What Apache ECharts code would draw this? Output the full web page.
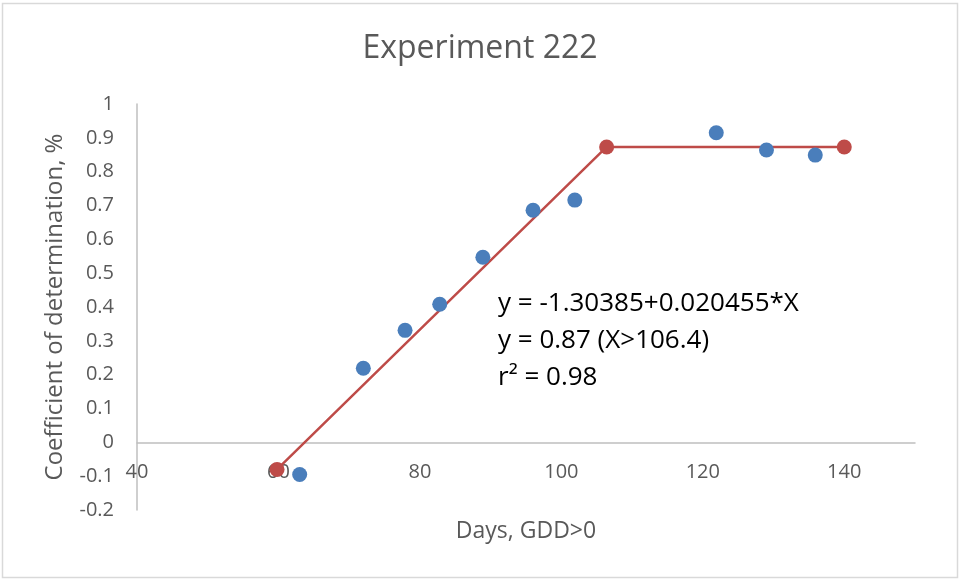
<!DOCTYPE html>
<html>
<head>
<meta charset="utf-8">
<script src="https://cdn.jsdelivr.net/npm/echarts@6/dist/echarts.min.js"></script>
<style>
  html, body { margin: 0; padding: 0; background: #fff; }
  #chart { width: 960px; height: 579px; }
</style>
</head>
<body>
<div id="chart"></div>
<script>
// observed points (days, coefficient)
var obsDays = [63, 72, 77.9, 82.8, 88.9, 96, 101.9, 121.9, 129, 135.9];
var obsR2 = [-0.095, 0.219, 0.331, 0.408, 0.547, 0.686, 0.716, 0.915, 0.864, 0.849];

// segmented fit: start, break point, end
var fitDays = [59.8, 106.4, 140];
var fitR2 = [-0.08, 0.873, 0.873];

var eqLines = ['y = -1.30385+0.020455*X', 'y = 0.87 (X>106.4)', 'r² = 0.98'];

var yMin = -0.2, yMax = 1;
var gridTop = 104, gridH = 406;

var font = '"Open Sans", sans-serif';
var grey = '#595959';

var chartDom = document.getElementById('chart');
var myChart = echarts.init(chartDom);
var option;

// x axis sits on y = 0, so shift it up from the grid bottom
var zeroShift = gridH * (0 - yMin) / (yMax - yMin);

option = {
  animation: false,
  title: {
    text: 'Experiment 222',
    left: 'center',
    top: 28,
    textStyle: { fontFamily: font, fontSize: 32, fontWeight: 'normal', color: grey }
  },
  grid: { left: 137, top: gridTop, width: 778, height: gridH, outerBoundsMode: 'none', containLabel: false },
  xAxis: {
    type: 'value',
    min: 40,
    max: 150,
    interval: 20,
    offset: -zeroShift,
    name: 'Days, GDD>0',
    nameLocation: 'middle',
    nameGap: 78,
    nameTextStyle: { fontFamily: font, fontSize: 23, color: grey },
    axisLine: { onZero: false, lineStyle: { color: '#bfbfbf', width: 1.5 } },
    axisTick: { show: false },
    splitLine: { show: false },
    axisLabel: { fontFamily: font, fontSize: 20, color: grey, margin: 20, showMaxLabel: false }
  },
  yAxis: {
    type: 'value',
    min: yMin,
    max: yMax,
    interval: 0.1,
    name: 'Coefficient of determination, %',
    nameLocation: 'middle',
    nameGap: 70,
    nameTextStyle: { fontFamily: font, fontSize: 24, color: grey },
    axisLine: { show: true, lineStyle: { color: '#bfbfbf', width: 1.5 } },
    axisTick: { show: false },
    splitLine: { show: false },
    axisLabel: {
      fontFamily: font, fontSize: 20, color: grey, margin: 23,
      formatter: function (v) { return String(Math.round(v * 10) / 10); }
    }
  },
  graphic: [
    {
      type: 'rect',
      shape: { x: 2.5, y: 3.5, width: 955, height: 574 },
      style: { fill: 'none', stroke: '#d9d9d9', lineWidth: 1.5 },
      z: -1
    },
    {
      type: 'text',
      left: 498,
      top: 285,
      style: {
        text: eqLines.join('\n'),
        font: '26px ' + font,
        fill: '#000',
        lineHeight: 37
      }
    }
  ],
  series: [
    {
      name: 'Observed',
      type: 'scatter',
      symbolSize: 15,
      itemStyle: { color: '#4a7ebb', opacity: 1 },
      data: obsDays.map(function (d, i) { return [d, obsR2[i]]; }),
      z: 3
    },
    {
      name: 'Fit',
      type: 'line',
      symbol: 'circle',
      symbolSize: 15,
      lineStyle: { color: '#be4b48', width: 2.5 },
      itemStyle: { color: '#be4b48', opacity: 1 },
      data: fitDays.map(function (d, i) { return [d, fitR2[i]]; }),
      z: 2
    }
  ]
};

option && myChart.setOption(option);
</script>
</body>
</html>
